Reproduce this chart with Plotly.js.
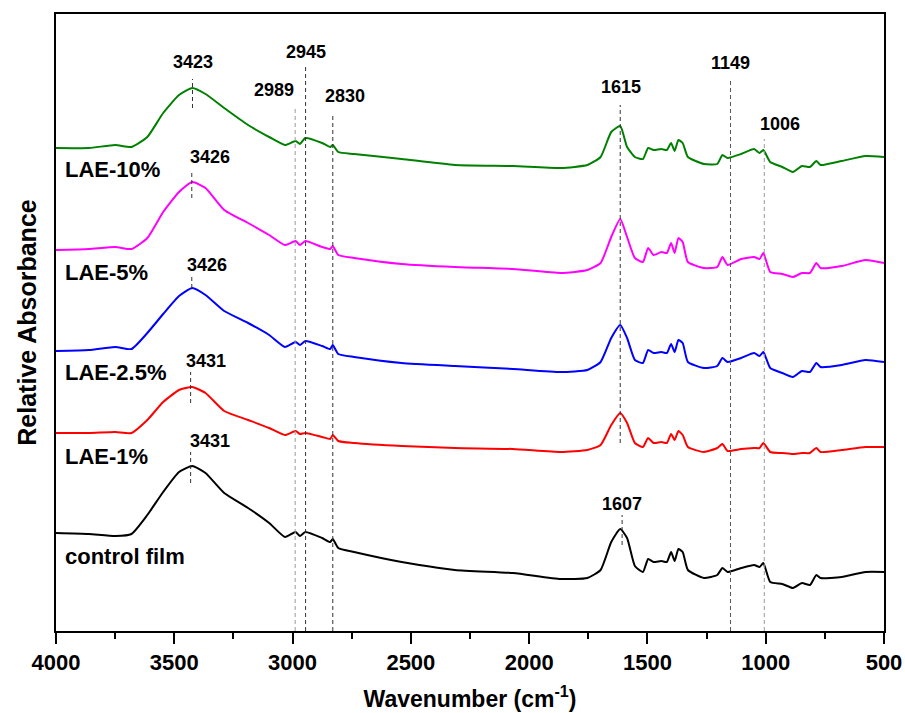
<!DOCTYPE html>
<html>
<head>
<meta charset="utf-8">
<script src="https://cdn.plot.ly/plotly-3.0.1.min.js"></script>
<style>
html,body{margin:0;padding:0;background:#fff;}
#chart{width:905px;height:713px;}
</style>
</head>
<body>
<div id="chart"></div>
<script>
// Wavenumber grid (cm-1)
const wavenumber = [4000,3861,3749,3681,3614,3547,3480,3424,3368,3289,3188,3099,3032,2987,2969,2946,2875,2841,2830,2807,2740,2539,2314,2068,1866,1754,1698,1653,1615,1586,1553,1519,1497,1474,1441,1418,1400,1385,1369,1351,1329,1261,1205,1183,1161,1104,1049,1026,1010,981,930,885,847,813,786,768,679,578,500];

// Relative absorbance (offset, arbitrary units)
const lae10 = [483,483,486,484,494,518,536,543,537,523,506,494,486,490,487,493,488,484,486,479,477,472,466,465,463,466,474,499,505,484,474,472,483,481,482,481,488,480,491,488,474,467,467,476,473,477,482,478,481,469,464,459,465,464,470,466,470,475,474];
const lae5 = [381,382,384,382,393,419,439,449,443,421,408,396,386,390,386,390,384,382,385,376,373,367,364,362,358,361,368,394,412,394,373,369,383,376,379,378,388,378,393,389,369,363,364,374,366,372,374,372,378,359,357,354,358,358,368,363,365,371,368];
const lae25 = [280,281,284,282,298,317,335,343,336,320,308,296,284,289,286,290,285,282,286,277,274,268,265,262,259,261,269,293,306,293,271,268,281,278,279,278,287,279,291,288,269,263,265,273,269,273,278,275,279,263,258,254,260,259,268,264,266,271,269];
const lae1 = [198,198,199,198,211,229,241,244,238,220,211,203,196,200,197,198,194,192,196,190,188,185,183,182,179,181,186,206,218,208,188,184,193,188,189,188,197,191,200,196,184,179,183,187,180,182,183,183,188,179,178,177,178,178,183,179,181,184,184];
const control = [98,97,95,97,116,139,159,165,158,138,123,108,94,99,95,99,93,89,92,83,79,69,61,58,52,53,61,89,102,93,65,59,72,69,70,69,79,70,82,79,61,53,56,63,59,63,66,64,68,49,47,43,48,46,56,53,54,59,59];

const seriesNames = ["LAE-10%","LAE-5%","LAE-2.5%","LAE-1%","control film"];
const seriesColors = ["#008000","#ff00ff","#0000ff","#ff0000","#000000"];
const seriesData = [lae10, lae5, lae25, lae1, control];

// Peak labels
const peakLabels = ["3423","2945","2989","2830","3426","1615","1149","1006","3426","3431","3431","1607"];
const peakLabelX = [3423,2945,3078,2778,3349,1612,1147,940,3362,3366,3349,1607];
const peakLabelY = [569,579,541,535,474,544,568,507,366,270,190,127];

// Dashed marker lines: wavenumber, top, bottom
const markWn  = [3423,3426,3426,3431,3431,1615,1607,2989,2945,2830,1149,1006];
const markTop = [552,458,356,259,179,526,116,525,565,517,551,492];
const markBot = [523,433,343,228,148,188,86,0,0,0,0,0];
const markCol = ["#333","#333","#333","#333","#333","#333","#333","#999","#333","#333","#555","#999"];

// Series label positions
const nameY = [462,359,259,175,75];

const traces = seriesData.map((d,i)=>({
  x: wavenumber, y: d, type:'scatter', mode:'lines', name: seriesNames[i],
  line:{color:seriesColors[i], width:2, shape:'spline', smoothing:0.5},
  hoverinfo:'x+y+name'
}));

const shapes = markWn.map((w,i)=>({
  type:'line', xref:'x', yref:'y', x0:w, x1:w, y0:markBot[i], y1:markTop[i],
  line:{color:markCol[i], width:1, dash:'4px,3px'}
}));

const FONT = 'Liberation Sans, Arial, sans-serif';
const annotations = [];
peakLabels.forEach((t,i)=>{
  annotations.push({x:peakLabelX[i], y:peakLabelY[i], xref:'x', yref:'y', text:t, showarrow:false,
    font:{family:FONT, size:18, color:'#000', weight:'bold'}, xanchor:'center', yanchor:'middle'});
});
seriesNames.forEach((t,i)=>{
  annotations.push({x:3970, y:nameY[i], xref:'x', yref:'y', text:t, showarrow:false,
    font:{family:FONT, size:22, color:'#000', weight:'bold'}, xanchor:'left', yanchor:'middle'});
});

const layout = {
  width:905, height:713,
  margin:{l:56, r:21, t:14, b:82},
  paper_bgcolor:'#ffffff', plot_bgcolor:'#ffffff',
  showlegend:false,
  font:{family:FONT, color:'#000'},
  xaxis:{
    range:[4000,500], dtick:500, tick0:500,
    ticks:'outside', ticklen:11, tickwidth:2, tickcolor:'#000',
    minor:{dtick:250, ticks:'outside', ticklen:6, tickwidth:2, tickcolor:'#000'},
    showline:true, linewidth:2, linecolor:'#000', mirror:true,
    showgrid:false, zeroline:false,
    tickfont:{size:22, weight:'bold', family:FONT},
    title:{text:'Wavenumber (cm<sup>-1</sup>)', font:{size:23, weight:'bold', family:FONT}, standoff:16}
  },
  yaxis:{
    range:[0,617], showticklabels:false, ticks:'',
    showline:true, linewidth:2, linecolor:'#000', mirror:true,
    showgrid:false, zeroline:false,
    title:{text:'Relative Absorbance', font:{size:25, weight:'bold', family:FONT}, standoff:10}
  },
  shapes: shapes,
  annotations: annotations
};

Plotly.newPlot('chart', traces, layout, {displayModeBar:false, staticPlot:true});
</script>
</body>
</html>
